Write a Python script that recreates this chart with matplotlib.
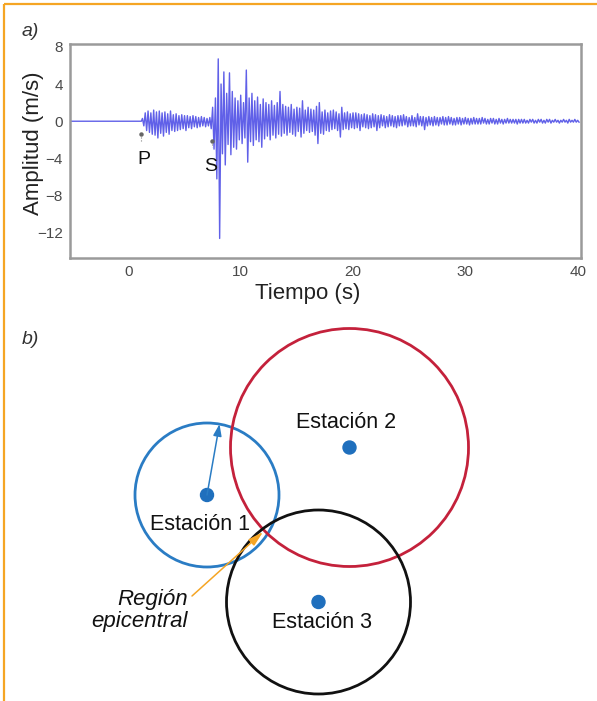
import numpy as np
import matplotlib
matplotlib.use("Agg")
import matplotlib.pyplot as plt
from matplotlib.patches import Circle, FancyArrowPatch

plt.rcParams['font.family'] = ['Liberation Sans', 'DejaVu Sans']

# --- a) seismogram: amplitude peaks sampled every 0.125 s from t = 1.25 s ---
quiet_t = [-5.2, 1.15]
quiet_amp = [0.0, 0.0]

amp_rows = [
    [0.3, -0.5, 0.9, -1.0, 1.1, -1.2, 0.9, -1.4],      # 1.25 s (P arrival)
    [1.2, -1.5, 1.0, -1.8, 1.1, -1.3, 0.9, -1.6],
    [1.0, -1.2, 0.8, -1.4, 1.1, -1.0, 0.7, -1.1],
    [0.8, -1.0, 0.6, -0.9, 0.7, -0.8, 0.6, -1.0],
    [0.6, -0.7, 0.5, -0.8, 0.6, -0.6, 0.5, -0.7],
    [0.4, -0.6, 0.5, -0.5, 0.4, -0.6, 0.3, -0.5],
    [0.4, -0.8, 1.5, -3.0, 2.5, -6.2, 6.7, -12.6],    # 7.25 s (S arrival)
    [4.0, -3.5, 5.3, -4.7, 3.0, -2.5, 5.2, -3.6],
    [3.2, -2.8, 2.5, -3.0, 2.2, -2.0, 2.8, -2.4],
    [2.0, -1.8, 5.5, -4.4, 2.5, -2.2, 3.0, -2.6],
    [2.2, -2.0, 2.6, -2.2, 1.8, -2.8, 2.4, -1.9],
    [2.0, -1.6, 1.8, -2.0, 2.2, -1.5, 1.7, -1.8],
    [2.0, -1.4, 3.2, -1.6, 1.8, -1.3, 1.6, -1.5],
    [1.5, -1.2, 1.8, -1.4, 1.3, -1.6, 1.5, -1.1],
    [1.4, -1.7, 2.2, -1.3, 1.2, -1.0, 1.5, -1.2],
    [1.3, -1.1, 1.2, -1.5, 1.6, -2.4, 2.0, -1.3],
    [1.0, -1.4, 1.2, -1.0, 0.9, -1.1, 1.1, -0.9],
    [1.2, -0.8, 1.0, -1.0, 0.8, -1.7, 1.5, -0.9],
    [0.9, -0.8, 1.0, -0.9, 0.8, -0.7, 0.9, -0.8],
    [0.9, -0.7, 0.8, -1.0, 0.7, -0.6, 0.8, -0.7],
    [0.7, -0.8, 0.6, -0.7, 0.8, -0.6, 0.7, -1.0],
    [0.6, -0.7, 0.7, -0.5, 0.6, -0.7, 0.5, -0.6],
    [0.7, -0.5, 0.6, -0.6, 0.5, -0.7, 0.6, -0.5],
    [0.6, -0.5, 0.7, -0.4, 0.5, -0.6, 0.4, -0.5],
    [0.6, -0.5, 0.4, -0.6, 0.8, -0.4, 0.5, -0.5],
    [0.5, -0.9, 0.4, -0.5, 0.5, -0.4, 0.4, -0.5],
    [0.5, -0.4, 0.4, -0.5, 0.4, -0.3, 0.5, -0.4],
    [0.4, -0.4, 0.5, -0.3, 0.4, -0.4, 0.3, -0.4],
    [0.4, -0.3, 0.4, -0.4, 0.3, -0.3, 0.4, -0.3],
    [0.3, -0.4, 0.3, -0.3, 0.4, -0.3, 0.3, -0.3],
    [0.3, -0.3, 0.4, -0.2, 0.3, -0.3, 0.2, -0.3],
    [0.3, -0.2, 0.3, -0.3, 0.2, -0.3, 0.3, -0.2],
    [0.2, -0.3, 0.2, -0.2, 0.3, -0.2, 0.2, -0.2],
    [0.2, -0.2, 0.2, -0.3, 0.2, -0.2, 0.2, -0.2],
    [0.2, -0.2, 0.1, -0.2, 0.2, -0.1, 0.2, -0.2],
    [0.1, -0.2, 0.2, -0.1, 0.2, -0.2, 0.1, -0.2],
    [0.2, -0.1, 0.2, -0.2, 0.1, -0.1, 0.2, -0.1],
    [0.1, -0.2, 0.1, -0.1, 0.2, -0.1, 0.1, -0.2],
    [0.2, -0.1, 0.1, -0.1, 0.2, -0.1, 0.1, -0.1],
]
sample_dt = 0.125
first_sample = 1.25

phase_names = ['P', 'S']
phase_t = [1.16, 7.48]
phase_amp = [-1.4, -2.1]
phase_label_t = [1.35, 7.3]
phase_label_amp = [-4.1, -4.9]

x_ticks = [0, 10, 20, 30, 40]
y_ticks = [8, 4, 0, -4, -8, -12]

# --- b) epicentre location (pixel units of the figure) ---
station_names = ['Estación 1', 'Estación 2', 'Estación 3']
station_x = [207, 349.5, 318.5]
station_y = [495, 447.5, 602]
station_r = [72, 119, 92]
station_colors = ['#2a7cc4', '#c4213b', '#111111']
label_x = [200, 346, 322]
label_y = [525, 423, 623]

amp = np.array([v for row in amp_rows for v in row])
t = first_sample + sample_dt * np.arange(len(amp))
t = np.concatenate([quiet_t, t])
amp = np.concatenate([quiet_amp, amp])

W, H = 597, 701
fig = plt.figure(figsize=(W / 100, H / 100), dpi=100)

# overlay in pixel coordinates for the frame and the circle diagram
ov = fig.add_axes([0, 0, 1, 1], zorder=0)
ov.set_xlim(0, W)
ov.set_ylim(H, 0)
ov.axis('off')
orange = '#f5a524'
ov.plot([4, W], [4, 4], color=orange, lw=1.6, solid_capstyle='butt')
ov.plot([4, 4], [4, H], color=orange, lw=1.6, solid_capstyle='butt')
ov.text(22, 31, 'a)', fontsize=14, style='italic', color='#333333', va='center')
ov.text(22, 340, 'b)', fontsize=14, style='italic', color='#333333', va='center')

for name, cx, cy, r, c, lx, ly in zip(station_names, station_x, station_y,
                                      station_r, station_colors, label_x, label_y):
    ov.add_patch(Circle((cx, cy), r, fill=False, ec=c, lw=2.0, zorder=2))
    ov.add_patch(Circle((cx, cy), 6.5, color='#1f6fbd', zorder=3))
    ov.text(lx, ly, name, fontsize=15.5, ha='center', va='center', color='#111111', zorder=4)

# radius arrow of station 1
ang = np.deg2rad(80)
tip = (station_x[0] + station_r[0] * np.cos(ang), station_y[0] - station_r[0] * np.sin(ang))
ov.add_patch(FancyArrowPatch((station_x[0], station_y[0]), tip,
                             arrowstyle='-|>,head_length=7,head_width=2.5',
                             color='#2a7cc4', lw=1.1, shrinkA=0, shrinkB=0, zorder=3))

# epicentral region pointer
ov.add_patch(FancyArrowPatch((192, 596), (263, 532),
                             arrowstyle='-|>,head_length=9,head_width=2.5',
                             color=orange, lw=1.1, shrinkA=0, shrinkB=0, zorder=5))
ov.text(188, 599, 'Región', fontsize=16, style='italic', ha='right', va='center', color='#111111')
ov.text(188, 622, 'epicentral', fontsize=16, style='italic', ha='right', va='center', color='#111111')

# seismogram axes
ax = fig.add_axes([70 / W, 1 - 258 / H, 511 / W, 214 / H], zorder=1)
ax.plot(t, amp, color='#4444e4', lw=1.0, alpha=0.85)
ax.set_xlim(-5.2, 40.3)
ax.set_ylim(-14.7, 8.3)
ax.set_xticks(x_ticks)
ax.set_yticks(y_ticks)
ax.tick_params(length=0, labelsize=11, labelcolor='#4a4a4a', pad=5)
for s in ax.spines.values():
    s.set_color('#9a9a9a')
    s.set_linewidth(1.8)

for name, pt, pa, lt, la in zip(phase_names, phase_t, phase_amp, phase_label_t, phase_label_amp):
    ax.plot([pt, pt], [pa, pa - 0.7], color='#888888', lw=0.8, ls=':')
    ax.plot(pt, pa, 'o', color='#666666', ms=2.2)
    ax.text(lt, la, name, fontsize=14, ha='center', va='center', color='#111111')

ax.set_xlabel('Tiempo (s)', fontsize=16, color='#222222')
ax.set_ylabel('Amplitud (m/s)', fontsize=16, color='#222222')
ax.xaxis.set_label_coords((308 - 70) / 511, (258 - 293) / 214)
ax.xaxis.label.set_va('center')
ax.yaxis.set_label_coords((33 - 70) / 511, (258 - 143) / 214)
ax.yaxis.label.set_va('center')

fig.savefig('out.png', dpi=100)
